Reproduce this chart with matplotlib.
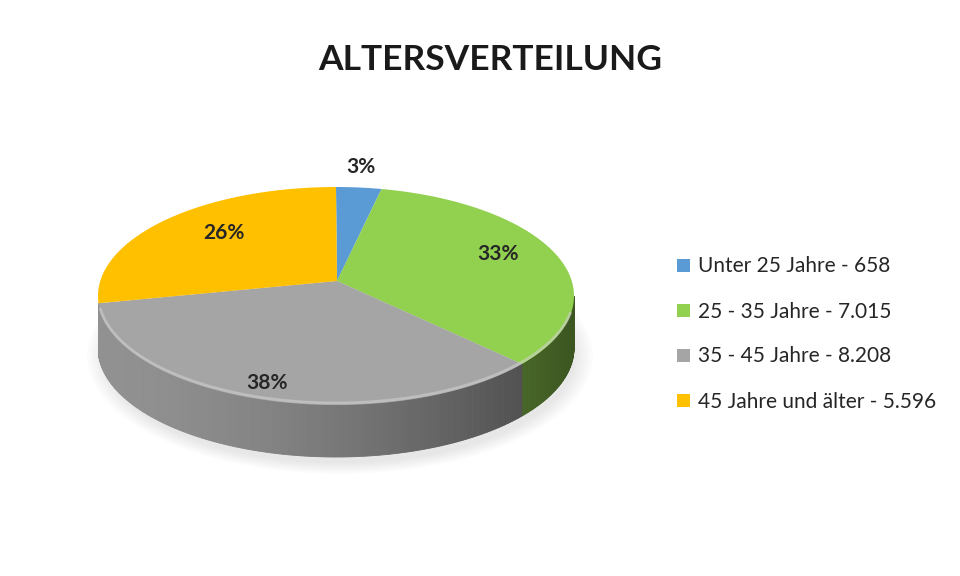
import numpy as np
import matplotlib.pyplot as plt
from matplotlib.patches import Patch, Ellipse
from matplotlib.colors import to_rgb

categories = ["Unter 25 Jahre", "25 - 35 Jahre", "35 - 45 Jahre", "45 Jahre und älter"]
counts = [658, 7015, 8208, 5596]
count_labels = ["658", "7.015", "8.208", "5.596"]
colors = ["#5b9bd5", "#92d050", "#a5a5a5", "#ffc000"]
label_radius = [1.05, 0.72, 0.98, 0.65]

# pie geometry (pixel space, y down)
cx, cy, rx, ry = 336, 296, 238, 109
apex = (337, 281)
depth = 52
side_range = (90, 266.5)   # part of the rim whose wall faces the viewer

fig = plt.figure(figsize=(9.6, 5.76), dpi=100)
ax = fig.add_axes([0, 0, 1, 1])
ax.set_xlim(0, 960)
ax.set_ylim(576, 0)
ax.axis('off')

def rim(t):
    t = np.radians(t)
    return cx + rx * np.sin(t), cy - ry * np.cos(t)

frac = np.array(counts) / sum(counts)
edges = np.concatenate([[0], np.cumsum(frac) * 360])

# soft shadow under the pie
for i in range(8):
    ax.add_patch(Ellipse((cx + 4, cy + depth + 8), 2 * rx + 30 - i * 5, 2 * ry + 18 - i * 3,
                         color="#000000", alpha=0.01, lw=0))

# visible side walls with left-to-right shading
for c, a0, a1 in zip(colors, edges[:-1], edges[1:]):
    lo, hi = max(a0, side_range[0]), min(a1, side_range[1])
    if hi - lo < 1:
        continue
    ts = np.linspace(lo, hi, int(hi - lo) * 2 + 2)
    base = np.array(to_rgb(c))
    for t0, t1 in zip(ts[:-1], ts[1:]):
        x0, y0 = rim(t0)
        x1, y1 = rim(t1)
        pos = ((x0 + x1) / 2 - (cx - rx)) / (2 * rx)
        shade = 0.88 - 0.47 * pos ** 1.6
        col = np.clip(base * shade, 0, 1)
        ax.fill([x0, x1, x1, x0], [y0, y1, y1 + depth, y0 + depth],
                color=col, lw=0.6, ec=col)

# top faces
for c, a0, a1 in zip(colors, edges[:-1], edges[1:]):
    ts = np.linspace(a0, a1, max(int(a1 - a0) * 2, 4))
    xs, ys = rim(ts)
    ax.fill(np.concatenate([[apex[0]], xs]), np.concatenate([[apex[1]], ys]),
            color=c, lw=0)

# bevel highlight on the front rim
ts = np.linspace(100, 262, 200)
xs, ys = rim(ts)
ax.plot(xs, ys - 2, color="#d0d0d0", lw=2.0, alpha=0.6, solid_capstyle='round')

# percentage labels
for f, a0, a1, r in zip(frac, edges[:-1], edges[1:], label_radius):
    m = np.radians((a0 + a1) / 2)
    lx = apex[0] + r * rx * np.sin(m)
    ly = apex[1] - r * ry * np.cos(m)
    ax.text(lx, ly, f"{f * 100:.0f}%", ha='center', va='center',
            fontsize=15, fontweight='bold', color="#262626", family="Lato")

handles = [Patch(facecolor=c, edgecolor='none') for c in colors]
texts = [f"{n} - {v}" for n, v in zip(categories, count_labels)]
ax.legend(handles, texts, loc='center left', bbox_to_anchor=(667 / 960, 1 - 334 / 576),
          frameon=False, handlelength=0.6, handleheight=0.6,
          handletextpad=0.4, labelspacing=1.2, borderpad=0,
          prop={'family': 'Lato', 'size': 15}, labelcolor="#262626")

ax.text(490, 60, "ALTERSVERTEILUNG", ha='center', va='center', fontsize=25.5,
        fontweight='bold', color="#1a1a1a", family="Lato")

fig.savefig("out.png", dpi=100, facecolor="white")
